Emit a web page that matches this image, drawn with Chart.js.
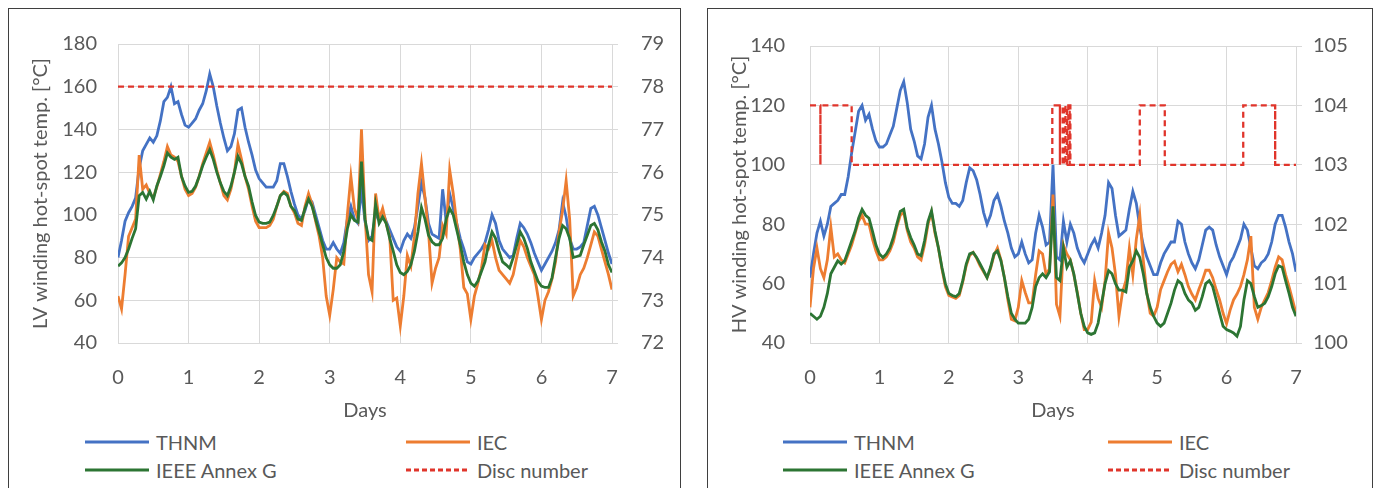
<!DOCTYPE html>
<html>
<head>
<meta charset="utf-8">
<script src="https://cdn.jsdelivr.net/npm/chart.js@4.4.0/dist/chart.umd.min.js"></script>
<style>
  body { margin: 0; background: #fff; width: 1380px; height: 488px; overflow: hidden; position: relative; font-family: Lato, sans-serif; color: #595959; }
  .box { position: absolute; top: 8px; height: 490px; border: 1px solid #3f3f3f; box-sizing: border-box; }
  .box canvas { position: absolute; left: 0; top: 0; }
  .leg { position: absolute; height: 24px; font-size: 20px; line-height: 24px; white-space: nowrap; display: flex; align-items: center; }
  .leg svg { margin-right: 7px; }
</style>
</head>
<body>

<div class="box" id="lvBox" style="left:8px; width:673px;">
  <canvas id="lv-chart" width="670" height="420"></canvas>
</div>
<div class="box" id="hvBox" style="left:707px; width:666px;">
  <canvas id="hv-chart" width="664" height="420"></canvas>
</div>

<script>
// time axis, sampled every 0.05 day
const days = [
  0, 0.05, 0.1, 0.15, 0.2, 0.25, 0.3, 0.35, 0.4, 0.45,
  0.5, 0.55, 0.6, 0.65, 0.7, 0.75, 0.8, 0.85, 0.9, 0.95,
  1, 1.05, 1.1, 1.15, 1.2, 1.25, 1.3, 1.35, 1.4, 1.45,
  1.5, 1.55, 1.6, 1.65, 1.7, 1.75, 1.8, 1.85, 1.9, 1.95,
  2, 2.05, 2.1, 2.15, 2.2, 2.25, 2.3, 2.35, 2.4, 2.45,
  2.5, 2.55, 2.6, 2.65, 2.7, 2.75, 2.8, 2.85, 2.9, 2.95,
  3, 3.05, 3.1, 3.15, 3.2, 3.25, 3.3, 3.35, 3.4, 3.45,
  3.5, 3.55, 3.6, 3.65, 3.7, 3.75, 3.8, 3.85, 3.9, 3.95,
  4, 4.05, 4.1, 4.15, 4.2, 4.25, 4.3, 4.35, 4.4, 4.45,
  4.5, 4.55, 4.6, 4.65, 4.7, 4.75, 4.8, 4.85, 4.9, 4.95,
  5, 5.05, 5.1, 5.15, 5.2, 5.25, 5.3, 5.35, 5.4, 5.45,
  5.5, 5.55, 5.6, 5.65, 5.7, 5.75, 5.8, 5.85, 5.9, 5.95,
  6, 6.05, 6.1, 6.15, 6.2, 6.25, 6.3, 6.35, 6.4, 6.45,
  6.5, 6.55, 6.6, 6.65, 6.7, 6.75, 6.8, 6.85, 6.9, 6.95,
  7
];

// LV winding hot-spot temperature [°C]
const lvThnm = [
  80, 88, 97, 101, 104, 108, 122, 130, 133, 136,
  134, 137, 144, 153, 155, 160, 152, 153, 147, 142,
  141, 143, 145, 149, 152, 158, 166, 160, 151, 143,
  136, 130, 132, 138, 149, 150, 141, 134, 128, 121,
  117, 115, 113, 113, 113, 116, 124, 124, 118, 111,
  105, 100, 98, 102, 108, 106, 100, 94, 88, 84,
  84, 87, 84, 82, 87, 98, 104, 98, 96, 112,
  97, 88, 90, 100, 98, 101, 97, 93, 89, 85,
  83, 88, 91, 89, 94, 104, 115, 108, 96, 91,
  90, 89, 112, 97, 110, 103, 96, 89, 84, 78,
  77, 80, 82, 84, 87, 93, 100, 96, 88, 84,
  82, 80, 81, 89, 96, 94, 91, 87, 82, 78,
  74, 77, 80, 83, 87, 93, 106, 99, 89, 84,
  84, 85, 87, 95, 103, 104, 100, 94, 88, 82,
  77
];
const lvIec = [
  62, 56, 72, 90, 94, 98, 128, 112, 114, 110,
  108, 113, 119, 125, 132, 128, 127, 125, 118, 112,
  109, 110, 113, 118, 124, 129, 134, 128, 121, 115,
  109, 107, 112, 120, 133, 126, 118, 112, 104, 97,
  94, 94, 94, 95, 98, 104, 109, 111, 110, 104,
  101, 96, 95, 104, 110, 105, 97, 90, 80, 62,
  53, 65, 80, 78, 77, 100, 118, 103, 98, 140,
  100, 72, 64, 110, 98, 103, 96, 90, 60, 61,
  48, 62, 81, 76, 90, 110, 124, 108, 92, 68,
  75, 80, 95, 91, 121, 110, 96, 84, 66, 63,
  51, 62, 68, 75, 86, 84, 88, 80, 74, 72,
  70, 68, 72, 80, 88, 85, 80, 76, 72, 62,
  51, 60, 64, 70, 78, 92, 102, 116, 98, 62,
  66, 72, 75, 80, 86, 92, 90, 84, 78, 72,
  65
];
const lvIeee = [
  76, 77.5, 80, 84, 89, 93.5, 109, 110.5, 107.4, 111,
  107, 113.5, 118, 123, 129, 127, 126, 127, 118, 113.5,
  110.5, 111, 113.5, 118, 123, 127, 130.5, 126, 120, 115,
  111, 109, 113.5, 120, 127.4, 124, 118, 113.5, 106, 99.7,
  96.6, 96, 96, 96.6, 99.7, 104, 109, 110.5, 109, 104,
  102, 98, 97.4, 103, 107.4, 104, 98, 92, 86, 80,
  76.6, 75, 75, 76.6, 83, 93.5, 100, 97.4, 96.6, 125,
  98, 89, 88, 105, 96, 99, 96, 89, 83, 76.6,
  73, 72, 73.5, 76.6, 83, 92, 103.5, 98, 90.5, 87.4,
  86, 86, 89, 98, 103, 100, 93, 86, 78, 72,
  68, 66.6, 69, 73.5, 78, 86, 92, 89, 83, 78,
  76.6, 75, 80, 86, 92, 89, 84.3, 78, 73.5, 69,
  66.6, 66, 66, 70.5, 80, 89, 95, 93.5, 89, 80,
  80.5, 81, 86, 90.5, 95, 96, 93, 87.4, 83, 76.6,
  73
];
const lvDiscDays = [0, 7];
const lvDiscNum = [78, 78];

// HV winding hot-spot temperature [°C]
const hvThnm = [
  62, 70, 77, 81, 76, 80, 86, 87, 88, 90,
  90, 96, 104, 111, 118, 120, 115, 117, 112, 108,
  106, 106, 107, 110, 113, 119, 125, 128, 121, 112,
  108, 103, 102, 107, 116, 120, 112, 107, 101, 94,
  89, 87, 87, 86, 88, 94, 99, 98, 95, 90,
  84, 80, 83, 88, 90, 86, 81, 77, 72, 69,
  70, 74, 70, 67, 68, 77, 83, 79, 73, 74,
  100, 69, 68, 81, 74, 80, 77, 72, 69, 67,
  70, 73, 75, 72, 77, 83, 94, 92, 83, 76,
  77, 78, 85, 91, 87, 79, 73, 69, 66, 63,
  63, 67, 70, 72, 74, 74, 81, 80, 74, 70,
  67, 65, 68, 73, 78, 79, 78, 73, 69, 66,
  63, 67, 69, 72, 75, 80, 78, 72, 66, 65,
  67, 68, 70, 74, 80, 83, 83, 79, 74, 70,
  64
];
const hvIec = [
  52, 65, 72, 65, 62, 68, 79, 69, 70, 68,
  67, 70, 73, 77, 81, 83, 80, 80, 75, 71,
  68, 68, 69, 71, 74, 79, 83, 84, 78, 74,
  72, 69, 68, 73, 80, 84, 77, 72, 65, 59,
  56, 55.5, 55, 56, 60.5, 66, 69.5, 70.5, 68.5, 66,
  64, 62, 65, 69.5, 72, 68, 62, 54.5, 48, 47.5,
  52, 61, 57, 53.5, 53.5, 63, 71, 70, 63, 65,
  90, 53, 49, 73, 70, 68, 63, 57, 50, 44.5,
  44.5, 47, 61, 55, 52, 61, 77, 72, 63, 49,
  57, 61, 72, 63, 75, 83, 68, 57, 50, 49,
  52, 58, 61, 64, 66.5, 67.5, 64, 66.5, 63, 59,
  56.5, 54.5, 58, 61, 64.5, 64.5, 62, 58, 54.5, 50,
  46.5, 51, 54.5, 56.5, 59, 63, 68, 76, 52, 48,
  52, 54.5, 57, 61, 65.5, 69, 68, 63, 59, 54.5,
  50
];
const hvIeee = [
  50, 49, 48, 49, 52, 56.7, 63.3, 65.5, 67.7, 66.6,
  67.7, 71, 74.4, 77.7, 82, 85, 83, 82, 77.7, 73,
  70, 68.8, 70, 72, 75.5, 80, 84.3, 85, 78.8, 75.5,
  73, 70, 69.4, 74.4, 81, 84.5, 77.7, 72, 65.5, 60,
  56.7, 56, 55.6, 56.7, 61, 66.6, 70, 70.5, 68.8, 66.6,
  64.4, 62, 65.5, 70, 71, 67.7, 62, 55.6, 50, 48,
  46.7, 46.7, 46.7, 48, 52, 59, 62, 63.3, 62, 64,
  86, 62, 61, 72, 65.5, 67.7, 63.3, 56.7, 50, 45.6,
  43.4, 42.9, 43.4, 46.7, 53.4, 60, 64.4, 63.3, 60, 57.8,
  57.8, 57.2, 65.5, 67.7, 71, 68.8, 63.3, 56.7, 52, 49,
  46.7, 45.6, 46.7, 50, 53.4, 57.8, 61, 60, 56.7, 54.5,
  53.4, 51, 52, 55.6, 60, 61, 59, 54.5, 50, 45.6,
  44.5, 44, 43.4, 42.3, 45.6, 54.5, 61, 60, 55.6, 52,
  52.6, 53.4, 55.6, 59, 63.3, 66, 65.5, 61, 56.7, 52,
  49
];
// disc number switches between 103 and 104 (step trace)
const hvDiscDays = [
  0, 0.15, 0.15, 0.15, 0.15, 0.15, 0.6, 0.6, 3.49, 3.49, 3.6, 3.6, 3.6,
  3.64, 3.64, 3.66, 3.66, 3.68, 3.68, 3.7, 3.7, 3.72, 3.72, 3.74, 3.74, 3.75, 3.75,
  4.75, 4.75, 5.11, 5.11, 6.24, 6.24, 6.7, 6.7, 6.7, 6.7, 6.7, 6.7, 7
];
const hvDiscNum = [
  104, 104, 103, 104, 103, 104, 104, 103, 103, 104, 104, 103, 104,
  104, 103, 103, 104, 104, 103, 103, 104, 104, 103, 103, 104, 104, 103,
  103, 104, 104, 103, 103, 104, 104, 103, 104, 103, 104, 103, 103
];

const seriesNames = ["THNM", "IEC", "IEEE Annex G", "Disc number"];
const seriesColors = ["#4472C4", "#ED7D31", "#2C7533", "#E0352B"];

Chart.defaults.font.family = "Lato, sans-serif";
Chart.defaults.font.size = 20;
Chart.defaults.color = "#595959";

const toPoints = (xs, ys) => xs.map((x, i) => ({ x: x, y: ys[i] }));

const makeChart = (canvasId, cfg) => {
  const datasets = [
    { label: seriesNames[0], data: toPoints(days, cfg.thnm), borderColor: seriesColors[0], order: 3 },
    { label: seriesNames[1], data: toPoints(days, cfg.iec), borderColor: seriesColors[1], order: 2 },
    { label: seriesNames[2], data: toPoints(days, cfg.ieee), borderColor: seriesColors[2], order: 1 },
    { label: seriesNames[3], data: toPoints(cfg.discDays, cfg.disc), borderColor: seriesColors[3],
      borderDash: [6, 4], borderWidth: 2.3, yAxisID: "y1", order: 0 },
  ];
  datasets.forEach((d) => {
    d.pointRadius = 0;
    d.fill = false;
    d.tension = 0;
    if (!d.borderWidth) d.borderWidth = 2.8;
  });

  return new Chart(document.getElementById(canvasId).getContext("2d"), {
    type: "line",
    data: { datasets: datasets },
    options: {
      responsive: false,
      animation: false,
      devicePixelRatio: 1,
      layout: { padding: { top: 34, left: 0, right: 0, bottom: 0 } },
      plugins: { legend: { display: false }, tooltip: { enabled: false } },
      scales: {
        x: {
          type: "linear", min: 0, max: 7,
          afterFit: (s) => { s.height = 86; },
          grid: { color: "#d9d9d9", drawTicks: false },
          border: { color: "#d9d9d9" },
          ticks: { stepSize: 1, padding: 23 },
          title: { display: true, text: "Days", padding: { top: 0, bottom: 6 } },
        },
        y: {
          position: "left", min: cfg.yMin, max: cfg.yMax,
          afterFit: (s) => { s.width = cfg.leftW; },
          grid: { color: "#d9d9d9", drawTicks: false },
          border: { color: "#d9d9d9" },
          ticks: { stepSize: 20, padding: cfg.leftPad },
          title: { display: true, text: cfg.yTitle, padding: { top: 20, bottom: 0 } },
        },
        y1: {
          position: "right", min: cfg.y1Min, max: cfg.y1Max,
          afterFit: (s) => { s.width = cfg.rightW; },
          grid: { drawOnChartArea: false, drawTicks: true, tickLength: 6, color: "#d9d9d9" },
          border: { color: "#d9d9d9" },
          ticks: { stepSize: 1, padding: cfg.rightPad },
        },
      },
    },
  });
};

makeChart("lv-chart", {
  thnm: lvThnm, iec: lvIec, ieee: lvIeee, discDays: lvDiscDays, disc: lvDiscNum,
  yMin: 40, yMax: 180, y1Min: 72, y1Max: 79,
  yTitle: "LV winding hot-spot temp. [°C]",
  leftW: 109, rightW: 67, leftPad: 21, rightPad: 23,
});

makeChart("hv-chart", {
  thnm: hvThnm, iec: hvIec, ieee: hvIeee, discDays: hvDiscDays, disc: hvDiscNum,
  yMin: 40, yMax: 140, y1Min: 100, y1Max: 105,
  yTitle: "HV winding hot-spot temp. [°C]",
  leftW: 102, rightW: 76, leftPad: 25, rightPad: 11,
});

// legend, 2 x 2 under each plot
const legendSample = (i) => {
  const dash = i === 3 ? ' stroke-dasharray="5,3"' : "";
  return '<svg width="64" height="6"><line x1="0" y1="3" x2="64" y2="3" stroke="' +
    seriesColors[i] + '" stroke-width="3"' + dash + "/></svg>";
};
const addLegend = (boxId, col1, col2) => {
  const box = document.getElementById(boxId);
  const spots = [[col1, 421], [col2, 421], [col1, 449], [col2, 449]];
  spots.forEach((p, i) => {
    const div = document.createElement("div");
    div.className = "leg";
    div.style.left = p[0] + "px";
    div.style.top = p[1] + "px";
    div.innerHTML = legendSample(i) + "<span>" + seriesNames[i] + "</span>";
    box.appendChild(div);
  });
};
addLegend("lvBox", 76, 397);
addLegend("hvBox", 75, 400);
</script>
</body>
</html>
